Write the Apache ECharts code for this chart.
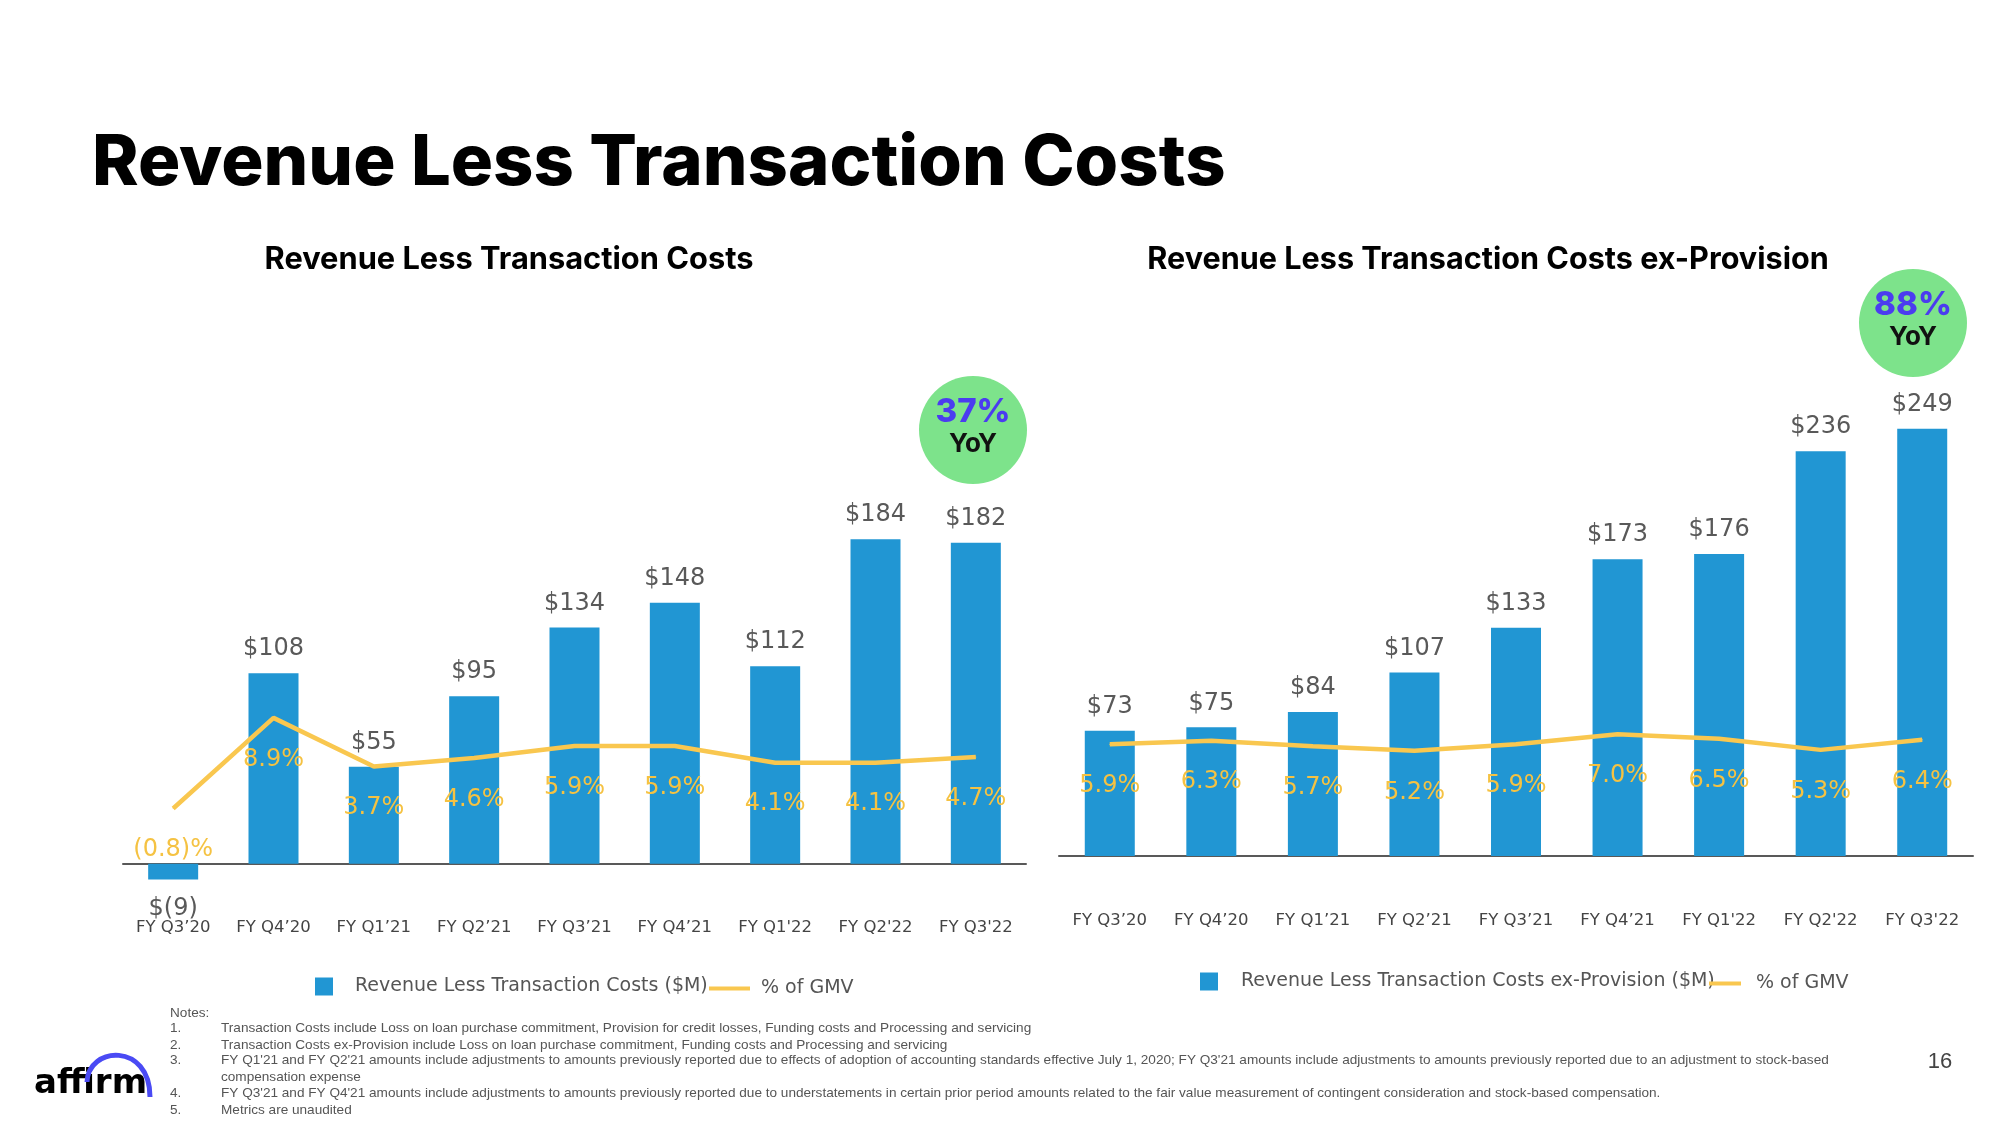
<!DOCTYPE html>
<html>
<head>
<meta charset="utf-8">
<script src="https://cdn.jsdelivr.net/npm/echarts@6/dist/echarts.min.js"></script>
<style>
  html, body { margin: 0; padding: 0; background: #ffffff; }
  #chart { width: 2000px; height: 1125px; }
</style>
</head>
<body>
<div id="chart"></div>
<script>
// ---------- DATA ----------
const categories = ["FY Q3’20", "FY Q4’20", "FY Q1’21", "FY Q2’21", "FY Q3’21", "FY Q4’21", "FY Q1'22", "FY Q2'22", "FY Q3'22"];
const rltcValues = [-9, 108, 55, 95, 134, 148, 112, 184, 182];          // Revenue Less Transaction Costs ($M)
const rltcPctGmv = [-0.8, 8.9, 3.7, 4.6, 5.9, 5.9, 4.1, 4.1, 4.7];    // % of GMV
const exProvValues = [73, 75, 84, 107, 133, 173, 176, 236, 249];       // ex-Provision ($M)
const exProvPctGmv = [5.9, 6.3, 5.7, 5.2, 5.9, 7.0, 6.5, 5.3, 6.4];    // % of GMV
const leftYoY = "37%";
const rightYoY = "88%";
const notes = [
  "Transaction Costs include Loss on loan purchase commitment, Provision for credit losses, Funding costs and Processing and servicing",
  "Transaction Costs ex-Provision include Loss on loan purchase commitment, Funding costs and Processing and servicing",
  "FY Q1'21 and FY Q2'21 amounts include adjustments to amounts previously reported due to effects of adoption of accounting standards effective July 1, 2020; FY Q3'21 amounts include adjustments to amounts previously reported due to an adjustment to stock-based",
  "compensation expense",
  "FY Q3'21 and FY Q4'21 amounts include adjustments to amounts previously reported due to understatements in certain prior period amounts related to the fair value measurement of contingent consideration and stock-based compensation.",
  "Metrics are unaudited"
];
const noteNumbers = ["1.", "2.", "3.", "", "4.", "5."];

// ---------- STYLE ----------
const BLUE = '#2196d3';
const YELLOW = '#f9c74f';
const YELLOW_TXT = '#f5c242';
const LABEL_FONT = "'DejaVu Sans', sans-serif";
const TITLE_FONT = "Inter, 'Noto Sans', sans-serif";
const NOTE_FONT = "13.6px 'Liberation Sans', Arial, sans-serif";

const money = v => v < 0 ? '$(' + (-v) + ')' : '$' + v;
const pct = v => v < 0 ? '(' + (-v).toFixed(1) + ')%' : v.toFixed(1) + '%';

function barData(values) {
  return values.map(v => v < 0
    ? { value: v, label: { position: 'bottom', distance: 17 } }
    : v);
}

const chart = echarts.init(document.getElementById('chart'), null, { renderer: 'canvas' });

const xAxisCommon = {
  type: 'category',
  data: categories,
  axisTick: { show: false },
  axisLine: { onZero: true, lineStyle: { color: '#595959', width: 2 } },
  axisLabel: { interval: 0, fontSize: 16.5, color: '#444', fontFamily: LABEL_FONT, margin: 56 }
};

const barLabel = {
  show: true, position: 'top', distance: 12,
  fontSize: 24, color: '#595959', fontFamily: LABEL_FONT,
  formatter: p => money(p.value)
};
const lineLabel = {
  show: true, position: 'bottom', distance: 29,
  fontSize: 24, color: YELLOW_TXT, fontFamily: LABEL_FONT,
  formatter: p => pct(p.value)
};

const graphics = [];
// YoY badges
function badge(cx, cy, big) {
  graphics.push({ type: 'circle', shape: { cx: cx, cy: cy, r: 54 }, style: { fill: '#7de38b' }, z: 10 });
  graphics.push({ type: 'text', x: cx, y: cy - 18, z: 11,
    style: { text: big, fill: '#4b3cf0', font: "800 33px " + TITLE_FONT, textAlign: 'center', textVerticalAlign: 'middle' } });
  graphics.push({ type: 'text', x: cx, y: cy + 14, z: 11,
    style: { text: 'YoY', fill: '#111', font: "700 26px " + TITLE_FONT, textAlign: 'center', textVerticalAlign: 'middle' } });
}
badge(973, 430, leftYoY);
badge(1913, 323, rightYoY);

// Notes
graphics.push({ type: 'text', x: 170, y: 1013, style: { text: 'Notes:', fill: '#555', font: NOTE_FONT, textVerticalAlign: 'middle' } });
const noteY = [1028, 1045, 1060, 1077, 1093, 1110];
notes.forEach((t, i) => {
  if (noteNumbers[i]) {
    graphics.push({ type: 'text', x: 170, y: noteY[i], style: { text: noteNumbers[i], fill: '#555', font: NOTE_FONT, textVerticalAlign: 'middle' } });
  }
  graphics.push({ type: 'text', x: 221, y: noteY[i], style: { text: t, fill: '#555', font: NOTE_FONT, textVerticalAlign: 'middle' } });
});
// page number
graphics.push({ type: 'text', x: 1940, y: 1062, style: { text: '16', fill: '#444', font: "22px 'Liberation Sans', Arial, sans-serif", textAlign: 'center', textVerticalAlign: 'middle' } });
// logo
graphics.push({ type: 'text', x: 34, y: 1084, style: { text: 'affirm', fill: '#000', font: "700 34px 'DejaVu Sans', sans-serif", textVerticalAlign: 'middle' } });
graphics.push({ type: 'bezierCurve',
  shape: { x1: 87, y1: 1082, cpx1: 88, cpy1: 1046, cpx2: 150, cpy2: 1042, x2: 150, y2: 1097 },
  style: { fill: null, stroke: '#4a4af4', lineWidth: 5 } });

const option = {
  animation: false,
  backgroundColor: '#ffffff',
  title: [
    { text: 'Revenue Less Transaction Costs', left: 87, top: 123,
      textStyle: { fontFamily: TITLE_FONT, fontWeight: 800, fontSize: 70.5, lineHeight: 71, color: '#000' } },
    { text: 'Revenue Less Transaction Costs', left: 504, top: 239, textAlign: 'center',
      textStyle: { fontFamily: TITLE_FONT, fontWeight: 700, fontSize: 30.8, lineHeight: 31, color: '#000' } },
    { text: 'Revenue Less Transaction Costs ex-Provision', left: 1483, top: 239, textAlign: 'center',
      textStyle: { fontFamily: TITLE_FONT, fontWeight: 700, fontSize: 30.6, lineHeight: 31, color: '#000' } }
  ],
  legend: [
    { data: [{ name: 'Revenue Less Transaction Costs ($M)', icon: 'rect' }], left: 315, top: 977, padding: 0,
      itemWidth: 18, itemHeight: 18, selectedMode: false,
      textStyle: { fontSize: 19, color: '#555', fontFamily: LABEL_FONT, padding: [7, 0, 0, 17] } },
    { data: [{ name: '% of GMV', icon: 'rect' }], left: 709, top: 979, padding: 0,
      itemWidth: 41, itemHeight: 4, selectedMode: false,
      textStyle: { fontSize: 19, color: '#555', fontFamily: LABEL_FONT, padding: [0, 0, 0, 6] } },
    { data: [{ name: 'Revenue Less Transaction Costs ex-Provision ($M)', icon: 'rect' }], left: 1200, top: 972, padding: 0,
      itemWidth: 18, itemHeight: 18, selectedMode: false,
      textStyle: { fontSize: 19, color: '#555', fontFamily: LABEL_FONT, padding: [7, 0, 0, 18] } },
    { data: [{ name: '% of GMV', icon: 'rect' }], left: 1709, top: 974, padding: 0,
      itemWidth: 32, itemHeight: 4, selectedMode: false,
      textStyle: { fontSize: 19, color: '#555', fontFamily: LABEL_FONT, padding: [0, 0, 0, 10] } }
  ],
  grid: [
    { left: 123, top: 511, width: 903, height: 388 },
    { left: 1059, top: 410, width: 914, height: 446 }
  ],
  xAxis: [
    Object.assign({ gridIndex: 0 }, xAxisCommon, { axisLabel: Object.assign({}, xAxisCommon.axisLabel, { margin: 20 }) }),
    Object.assign({ gridIndex: 1 }, xAxisCommon)
  ],
  yAxis: [
    { gridIndex: 0, type: 'value', min: -20, max: 200, show: false },
    { gridIndex: 0, type: 'value', min: -10.49, max: 31.05, show: false },
    { gridIndex: 1, type: 'value', min: 0, max: 260, show: false },
    { gridIndex: 1, type: 'value', min: -6.26, max: 42.32, show: false }
  ],
  series: [
    { name: 'Revenue Less Transaction Costs ($M)', type: 'bar', xAxisIndex: 0, yAxisIndex: 0,
      data: barData(rltcValues), barWidth: 50, itemStyle: { color: BLUE }, label: barLabel },
    { name: '% of GMV', type: 'line', xAxisIndex: 0, yAxisIndex: 1, data: rltcPctGmv,
      symbol: 'circle', symbolSize: 1, showSymbol: true, itemStyle: { color: YELLOW },
      lineStyle: { color: YELLOW, width: 4.5 }, label: lineLabel, z: 5 },
    { name: 'Revenue Less Transaction Costs ex-Provision ($M)', type: 'bar', xAxisIndex: 1, yAxisIndex: 2,
      data: barData(exProvValues), barWidth: 50, itemStyle: { color: BLUE }, label: barLabel },
    { name: '% of GMV', type: 'line', xAxisIndex: 1, yAxisIndex: 3, data: exProvPctGmv,
      symbol: 'circle', symbolSize: 1, showSymbol: true, itemStyle: { color: YELLOW },
      lineStyle: { color: YELLOW, width: 4.5 }, label: lineLabel, z: 5 }
  ],
  graphic: graphics
};
chart.setOption(option);
</script>
</body>
</html>
